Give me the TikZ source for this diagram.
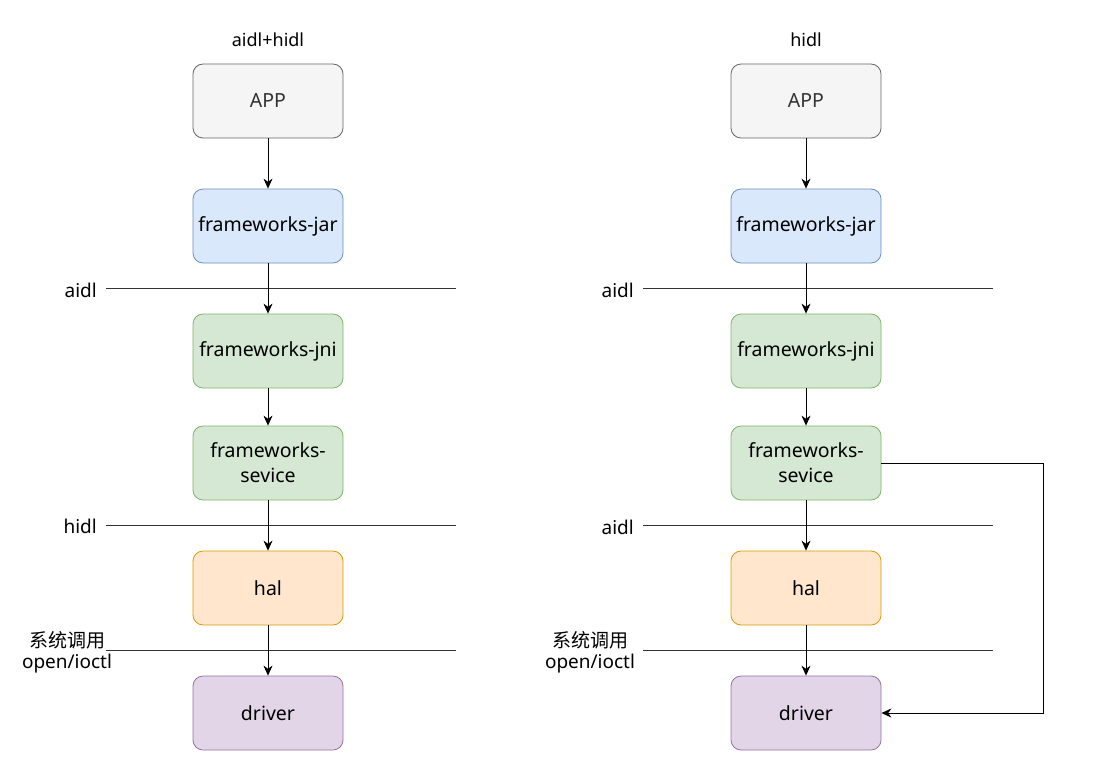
\documentclass[tikz,border=0pt]{standalone}
\usepackage{fontspec}
\setmainfont{Noto Sans}
\newfontfamily\cjk{Noto Sans CJK SC}
\usetikzlibrary{arrows.meta}
\definecolor{appfill}{HTML}{F5F5F5}\definecolor{appline}{HTML}{666666}
\definecolor{bluefill}{HTML}{DAE8FC}\definecolor{blueline}{HTML}{6C8EBF}
\definecolor{greenfill}{HTML}{D5E8D4}\definecolor{greenline}{HTML}{82B366}
\definecolor{orangefill}{HTML}{FFE6CC}\definecolor{orangeline}{HTML}{D79B00}
\definecolor{purplefill}{HTML}{E1D5E7}\definecolor{purpleline}{HTML}{9673A6}
\definecolor{ink}{HTML}{333333}
\tikzset{
  layer/.style={rounded corners=10pt, minimum width=150pt, minimum height=74pt,
    text width=148pt, align=center, font=\fontsize{19.5}{25}\selectfont, inner sep=0pt, line width=0.8pt},
  app/.style={layer, fill=appfill, draw=appline, text=ink},
  jar/.style={layer, fill=bluefill, draw=blueline},
  jni/.style={layer, fill=greenfill, draw=greenline},
  hal/.style={layer, fill=orangefill, draw=orangeline},
  drv/.style={layer, fill=purplefill, draw=purpleline},
  flow/.style={draw=black, line width=0.9pt, -{Stealth[length=10pt,width=9pt]}},
  sep/.style={draw=ink, line width=0.9pt},
  lbl/.style={font=\fontsize{19}{24}\selectfont, inner sep=0pt, align=center},
  title/.style={font=\fontsize{18}{20}\selectfont, inner sep=0pt}
}
\begin{document}
\begin{tikzpicture}[x=1pt,y=-1pt]
\useasboundingbox (0,0) rectangle (1113,776);

% ---- left stack: aidl + hidl ----
\node[title] (t1) at (268,40) {aidl+hidl};
\node[app] (a1) at (268,101) {APP};
\node[jar] (b1) at (268,226) {frameworks-jar};
\node[jni] (c1) at (268,351) {frameworks-jni};
\node[jni] (d1) at (268,463) {frameworks-\\sevice};
\node[hal] (e1) at (268,588) {hal};
\node[drv] (f1) at (268,713) {driver};

\coordinate (s1a) at (106,288); \coordinate (s1b) at (456,288);
\coordinate (s2a) at (106,525); \coordinate (s2b) at (456,525);
\coordinate (s3a) at (106,650); \coordinate (s3b) at (456,650);
\draw[sep] (s1a) -- (s1b);
\draw[sep] (s2a) -- (s2b);
\draw[sep] (s3a) -- (s3b);
\node[lbl, anchor=east] (l1) at (97,290) {aidl};
\node[lbl, anchor=east] (l2) at (97,526) {hidl};
\node[lbl] (l3) at (67,640) {\cjk 系统调用};
\node[lbl] (l4) at (67,664) {open/ioctl};

\draw[flow] (a1) -- (b1);
\draw[flow] (b1) -- (c1);
\draw[flow] (c1) -- (d1);
\draw[flow] (d1) -- (e1);
\draw[flow] (e1) -- (f1);

% ---- right stack: hidl ----
\node[title] (t2) at (806,40) {hidl};
\node[app] (a2) at (806,101) {APP};
\node[jar] (b2) at (806,226) {frameworks-jar};
\node[jni] (c2) at (806,351) {frameworks-jni};
\node[jni] (d2) at (806,463) {frameworks-\\sevice};
\node[hal] (e2) at (806,588) {hal};
\node[drv] (f2) at (806,713) {driver};

\coordinate (r1a) at (643,288); \coordinate (r1b) at (993,288);
\coordinate (r2a) at (643,525); \coordinate (r2b) at (993,525);
\coordinate (r3a) at (643,650); \coordinate (r3b) at (993,650);
\draw[sep] (r1a) -- (r1b);
\draw[sep] (r2a) -- (r2b);
\draw[sep] (r3a) -- (r3b);
\node[lbl, anchor=east] (m1) at (634,290) {aidl};
\node[lbl, anchor=east] (m2) at (634,527) {aidl};
\node[lbl] (m3) at (590,640) {\cjk 系统调用};
\node[lbl] (m4) at (590,664) {open/ioctl};

\draw[flow] (a2) -- (b2);
\draw[flow] (b2) -- (c2);
\draw[flow] (c2) -- (d2);
\draw[flow] (d2) -- (e2);
\draw[flow] (e2) -- (f2);
\coordinate (bend) at (1043,463);
\draw[flow] (d2.east) -- (bend) |- (f2.east);
\end{tikzpicture}
\end{document}
